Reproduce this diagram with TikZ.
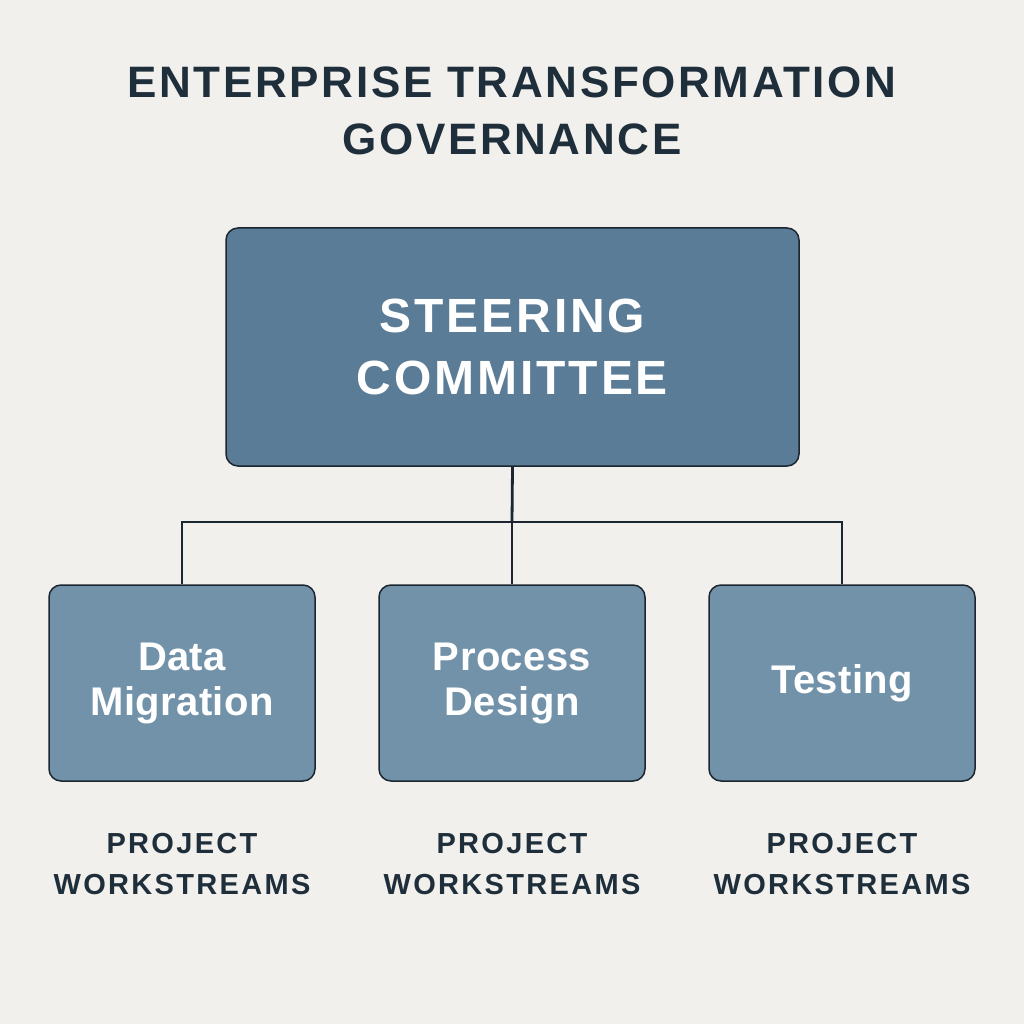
\documentclass[tikz,border=0pt]{standalone}
\usepackage{fontspec}
\setmainfont{Liberation Sans}
\usetikzlibrary{positioning}
\definecolor{bgpaper}{HTML}{F1F0EC}
\definecolor{inkdark}{HTML}{1F2E3B}
\definecolor{steerblue}{HTML}{5B7C97}
\definecolor{streamblue}{HTML}{7292AA}
\definecolor{edgedark}{HTML}{1C2630}
\tikzset{
  headtext/.style={text=inkdark, align=center, inner sep=0pt,
    font=\bfseries\fontsize{44}{57}\selectfont\addfontfeatures{LetterSpace=6}},
  steerbox/.style={draw=edgedark, line width=1.5pt, fill=steerblue, rounded corners=12pt,
    minimum width=573pt, minimum height=238pt, text=white, align=center,
    font=\bfseries\fontsize{48}{62}\selectfont\addfontfeatures{LetterSpace=6}},
  streambox/.style={draw=edgedark, line width=1.5pt, fill=streamblue, rounded corners=12pt,
    minimum width=266pt, minimum height=196pt, text=white, align=center,
    font=\bfseries\fontsize{40}{45}\selectfont\addfontfeatures{LetterSpace=1}},
  streamtag/.style={text=inkdark, align=center, inner sep=0pt,
    font=\bfseries\fontsize{29}{41}\selectfont\addfontfeatures{LetterSpace=8}},
  link/.style={draw=edgedark, line width=2.8pt}
}
\begin{document}
\begin{tikzpicture}[x=1pt,y=-1pt]
\fill[bgpaper] (0,0) rectangle (1024,1024);
\node[headtext, anchor=north] (title) at (512,67) {ENTERPRISE TRANSFORMATION\\GOVERNANCE};
\node[steerbox] (steer) at (512.5,347) {STEERING\\COMMITTEE};
\node[streambox] (data) at (182,683) {Data\\Migration};
\node[streambox] (proc) at (512,683) {Process\\Design};
\node[streambox] (test) at (842,683) {Testing};
\coordinate (bus) at (512,522);
\draw[link] (steer.south) -- (bus);
\draw[link] (data.north) |- (bus) -| (test.north);
\draw[link] (bus) -- (proc.north);
\node[streamtag, below=51pt of data] (datatag) {PROJECT\\WORKSTREAMS};
\node[streamtag, below=51pt of proc] (proctag) {PROJECT\\WORKSTREAMS};
\node[streamtag, below=51pt of test] (testtag) {PROJECT\\WORKSTREAMS};
\end{tikzpicture}
\end{document}
